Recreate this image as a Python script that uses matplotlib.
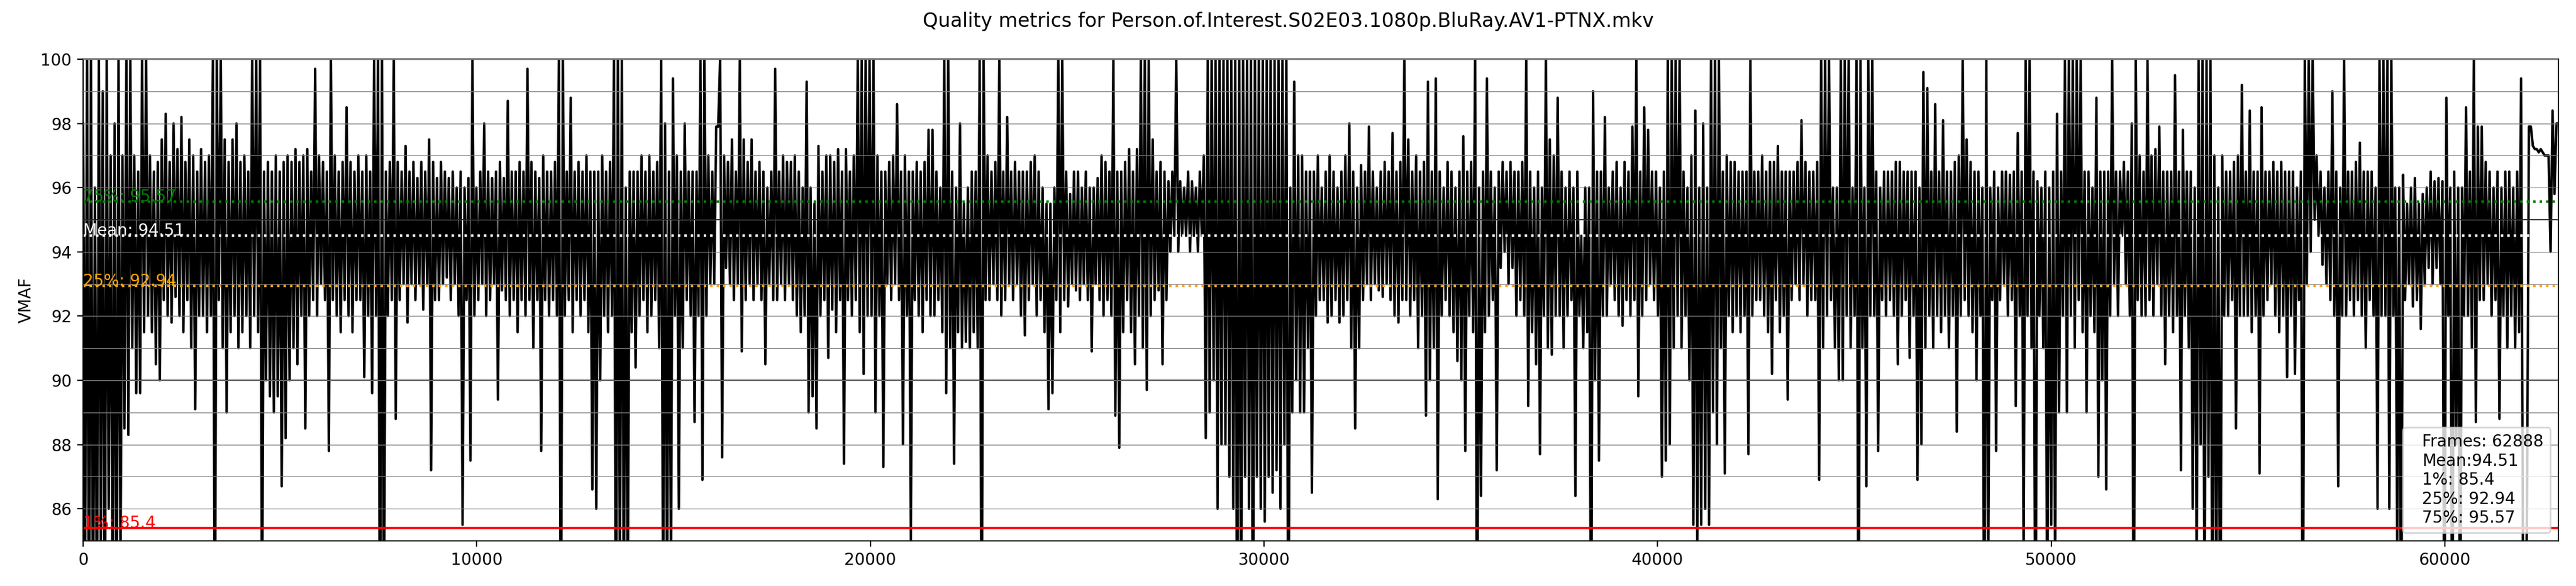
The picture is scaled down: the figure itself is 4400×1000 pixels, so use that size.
import numpy as np
import matplotlib
matplotlib.use("Agg")
import matplotlib.pyplot as plt
from matplotlib.ticker import MultipleLocator

# ---- data ----
title = "Quality metrics for Person.of.Interest.S02E03.1080p.BluRay.AV1-PTNX.mkv"
n_frames = 62888
mean_vmaf = 94.51
p1_vmaf = 85.4
p25_vmaf = 92.94
p75_vmaf = 95.57

# per-frame VMAF, sampled roughly every 50 frames (read off the picture),
# one row of 20 values per ~1000 frames
vmaf_part1 = [
    98, 84, 100, 80, 100, 82, 96, 81, 100, 85, 99, 80, 100, 86, 97, 83, 98, 80, 100, 84,
    97, 88.5, 100, 88.3, 100, 91, 97, 89.6, 96.5, 89.6, 100, 91.5, 100, 92, 97, 91.5, 96.5, 90.5, 96.8, 90,
    97.5, 92.5, 98.3, 92, 96.8, 91.8, 98, 92.6, 97.2, 92, 98.2, 91.5, 96.8, 92.5, 97.5, 91, 97, 89.1, 96.5, 92,
    97.2, 92, 96.8, 91.5, 97, 92, 100, 80, 100, 92.5, 100, 91, 97.5, 89, 96.8, 91.5, 97.5, 92, 98, 91,
    96.8, 91.5, 97, 92, 96.5, 91, 100, 92, 100, 91.5, 100, 82, 96.5, 90, 96.8, 89.5, 96.5, 89, 97, 89.5,
    96.5, 86.7, 96.8, 88.2, 97, 90, 96.8, 91, 97.2, 90.5, 96.8, 92, 97, 88.5, 97.2, 92, 96.5, 92.5, 99.7, 92,
    97, 93, 96.8, 92.5, 96.5, 87.8, 100, 92.5, 97, 92, 96.5, 91.5, 96.8, 92.5, 98.5, 92, 96.8, 91.5, 96.5, 92.5,
    97, 92.5, 96.5, 90.1, 97, 92, 96.5, 89.6, 100, 92, 100, 80, 100, 82, 96.5, 92, 96.8, 92.5, 100, 88.8,
    96.8, 92.5, 96.5, 93, 97.3, 91.8, 96.5, 93, 96.8, 92.5, 96.3, 93, 96.8, 92.2, 96.5, 93, 97.5, 87.2, 96.8, 92.5,
    96.3, 92.5, 96.8, 93, 96.5, 93.2, 96.3, 92.5, 96.5, 93, 96, 92, 96.5, 85.5, 96, 92.5, 96.3, 87.5, 100, 92,
    96, 92.5, 96.5, 93, 98, 92, 96.5, 92.5, 96.3, 93, 96.5, 89.4, 96.8, 92.8, 96.3, 92.5, 98.7, 92, 96.5, 92.5,
    96.5, 91.5, 96.8, 92.5, 96.5, 92, 99.7, 92.5, 96.8, 91, 96.5, 92.5, 96.3, 87.8, 97, 92.5, 96.5, 92, 96.5, 92.5,
    96.8, 92, 100, 80, 100, 92, 96.5, 92.5, 98.8, 91.5, 96.5, 92.5, 96.8, 92, 96.5, 92.5, 97, 91.5, 96.5, 86.6,
    96.5, 86, 96.5, 90, 97, 92, 96.5, 91.5, 96.8, 92, 100, 80, 100, 84, 100, 82, 96, 83, 96.5, 91.5,
    96.5, 90.4, 96.5, 92, 97, 92.5, 96.5, 91.5, 97, 92, 96.5, 92.5, 96.8, 91, 100, 82, 98, 83, 96.5, 84,
    99.4, 92, 97, 86, 96.5, 91, 98, 92.5, 96.5, 92, 96.5, 88.7, 96.5, 92, 100, 86.9, 100, 92, 97, 93,
]
vmaf_part2 = [
    96.5, 93, 97.9, 97.9, 100, 87.6, 97, 93.5, 96.8, 93, 97.5, 92.5, 96.5, 93, 100, 90.9, 97.5, 92.5, 96.8, 93,
    97.5, 92.5, 96.5, 93, 96.8, 92.5, 96.5, 90.5, 96, 93, 96.5, 92.5, 99.7, 92.5, 96.5, 93, 97, 92.5, 96.8, 93,
    96.8, 92.5, 97, 92, 96.5, 91.5, 96, 92, 99.3, 89, 96, 89.5, 95.5, 88.5, 97.3, 92, 96.5, 92.5, 97, 90.7,
    97, 92.2, 96.8, 91.5, 97.2, 92.5, 96.5, 87.4, 97.2, 92.5, 96.5, 92, 97, 92.5, 100, 91.5, 100, 90.2, 100, 92,
    100, 92, 100, 89, 97, 92, 96.5, 87.3, 96.5, 93, 96.8, 92.5, 97, 93, 98.6, 92.5, 96.5, 88, 97, 92,
    96.5, 85, 96.5, 92.5, 96.8, 92, 96.5, 91.5, 96.8, 92.5, 97.8, 92, 97.8, 92, 96.5, 92.5, 96, 91.5, 100, 89.6,
    100, 91, 96.5, 87.4, 96, 91.5, 98, 91, 95.5, 91.2, 96, 91, 96.5, 91.5, 96.5, 91, 100, 80, 100, 92.5,
    97, 92.5, 96.5, 93, 96.8, 92.5, 100, 92, 96.5, 92.5, 98.2, 93, 96.5, 92.5, 96.8, 93, 96.5, 92, 96.5, 91.4,
    96.5, 92.5, 96.8, 93, 97, 92, 96.5, 92.5, 96, 91.5, 95.5, 89.1, 95.5, 89.6, 96, 92.5, 100, 91.5, 100, 92.5,
    96.5, 92.3, 95.8, 93, 96.5, 92.8, 96.5, 92.5, 96, 93, 96.5, 92.5, 96, 90.9, 96, 93, 96.3, 92.5, 97, 92,
    96.8, 92.5, 96.5, 92, 100, 88.9, 96.5, 87.9, 96.5, 91.5, 96.8, 92.5, 97.2, 91.5, 96.5, 90.5, 97.2, 92, 100, 91,
    100, 89.7, 100, 92, 97.5, 92.5, 96.5, 92.8, 96.8, 90.5, 96.5, 92.5, 96.2, 94, 96.5, 94.5, 100, 94, 96.2, 94.5,
    96, 94.5, 96.5, 94, 96.2, 94.5, 96, 94, 96.5, 94.5, 97, 88.2, 100, 89, 100, 90, 100, 86, 100, 88,
    100, 88, 100, 87, 100, 86, 100, 80, 100, 82, 100, 87, 100, 86, 100, 80, 100, 87, 100, 86,
    100, 85.6, 100, 87, 100, 86.5, 100, 87.2, 100, 86, 100, 88, 100, 80, 96, 89, 99.3, 90, 97, 89,
    97, 89, 96.5, 91, 96.5, 86.5, 96.5, 92, 97, 92.5, 96, 92.5, 96.5, 91.8, 97, 92, 96.5, 92.5, 96, 91.8,
]
vmaf_part3 = [
    96.5, 92, 97, 92.5, 98, 91, 96.5, 88.5, 96, 91, 96.7, 92.5, 96.5, 93, 97.9, 92.5, 96.5, 93, 96, 92.8,
    96.5, 92.6, 96.8, 93, 96.5, 92.5, 97.7, 92, 96.5, 91.8, 96.8, 92.5, 100, 92.5, 97.5, 92, 96.5, 92.5, 97, 91,
    96.5, 92, 96.8, 88.9, 99.3, 90, 96.5, 91, 99.4, 86.3, 96.5, 92, 96, 92.5, 96.8, 92, 96.5, 91.5, 96, 90.6,
    96.5, 90, 97.6, 87.8, 96.5, 92, 96.8, 91.5, 100, 80, 96, 86.4, 96.5, 91.5, 99.4, 92, 96.5, 92.5, 96, 87.2,
    96.5, 93.5, 96.8, 94, 96.5, 93, 96.8, 93.5, 96.5, 92, 96.5, 92.5, 96.8, 92, 100, 89.2, 96.5, 91.5, 96, 90.5,
    96.5, 87.7, 96, 92, 100, 91, 97.5, 90.8, 97, 92, 98.8, 92, 96.5, 91, 96, 92, 96.5, 92.5, 96, 86.4,
    96.5, 92, 94.5, 91, 96, 91.5, 96, 80, 99, 90, 96.5, 87.5, 96.5, 92, 98.2, 92, 96, 93, 96.5, 92.5,
    96.8, 92, 96, 91.7, 96.8, 92.5, 96.5, 92, 97.9, 92.5, 100, 89.5, 96.5, 92, 98.5, 92.5, 97.8, 93, 96.5, 92.5,
    96.5, 92, 96, 87, 96.5, 87.5, 100, 88, 100, 91, 100, 92, 100, 91, 96.5, 92, 96, 90, 97, 85.5,
    98.4, 84.5, 96, 85.5, 98, 86, 96, 85.5, 100, 89, 100, 88, 100, 91, 96.5, 87.1, 97, 92, 96.8, 91.5,
    96.8, 92, 96.5, 91.5, 96.5, 92, 96.5, 87.7, 100, 92, 96.5, 92.5, 96.5, 92.5, 97, 92, 96.5, 91.5, 96.8, 90.2,
    96.8, 92.5, 97.3, 91.5, 96.5, 92, 96.5, 89.4, 96.5, 92.5, 96.5, 93, 96.8, 92.5, 98.1, 93, 96.8, 92, 96.5, 92.5,
    96.5, 92.5, 96.8, 86.9, 100, 91, 100, 92, 100, 92.5, 96, 91, 96, 90, 100, 90, 100, 92, 100, 91,
    96, 92, 100, 80, 100, 91, 96, 86.7, 100, 92, 100, 92, 96.5, 87.8, 96, 92.5, 96.5, 92, 96.5, 92.5,
    96.5, 92, 96.8, 90.5, 96.8, 92, 96.5, 92.5, 96.5, 90.7, 96.5, 92, 96.5, 86.9, 96, 88, 99.6, 91, 99.1, 92,
]
vmaf_part4 = [
    96.5, 91, 98.6, 92, 96.5, 91.5, 98.1, 92, 96.5, 91, 96.5, 92, 96.8, 88.4, 97, 92, 100, 92.5, 97.5, 92,
    96.8, 91.5, 96.5, 90, 96.5, 92, 96, 80, 100, 84, 96, 92.5, 96.5, 87.8, 96, 92.5, 96.5, 93, 96.5, 92,
    96.4, 92.5, 96.5, 89.2, 97.7, 92, 96.5, 84.5, 100, 92, 100, 91, 96.5, 80, 96.2, 92, 96, 91, 96.5, 82,
    96, 85.5, 96.5, 84, 98.3, 89, 96.5, 92, 100, 89, 100, 92, 100, 91, 100, 92.5, 100, 91.5, 96.5, 89,
    96.5, 92, 96, 91.5, 98.8, 87, 96.5, 90, 96.5, 86.6, 96.5, 92, 100, 93, 96.5, 92, 96.5, 94.5, 96.8, 93,
    96.5, 92, 98, 80, 100, 92.5, 97, 92, 96.5, 92, 100, 92.5, 97, 92, 97.2, 93, 97.9, 92, 96.5, 90.5,
    96.5, 92, 96.5, 91.5, 99.5, 92, 96.5, 87.2, 97.8, 92, 96.5, 91, 96.5, 86, 96, 84, 100, 88, 100, 82,
    100, 87, 100, 80, 97, 83, 96, 80, 97, 92, 96.5, 92, 96.5, 92.5, 96.8, 88.5, 97, 92, 99.2, 92,
    96.5, 92, 98.4, 91.5, 96.5, 92, 96.5, 87.1, 98.5, 92, 96.5, 92.5, 96.5, 93, 96.8, 92, 96.5, 91.5, 96.8, 92,
    96.5, 90.1, 96.5, 92, 96.5, 90.2, 96, 92.5, 96.5, 80, 100, 93, 100, 94, 100, 95, 97, 94.5, 96.5, 93.6,
    96, 93, 96.5, 92.5, 99, 92, 96.5, 86.7, 96, 92, 100, 92, 96.5, 92.5, 96.5, 92, 96.8, 92.5, 97.4, 92,
    96.5, 91, 96.5, 92.5, 96.5, 92, 96, 86, 100, 92, 100, 92, 100, 86, 100, 92, 96, 85, 96, 80,
    96.4, 92.5, 95.5, 93, 96, 92.3, 96.3, 92.5, 95.5, 91.6, 95.8, 93, 96, 93.5, 96.5, 93, 96.2, 93.5, 96.3, 93,
    96.2, 80, 98.8, 92, 96, 80, 96.5, 88, 96, 80, 96, 92, 98.5, 92, 96.5, 91, 100, 88.7, 97.9, 92.5,
    97.9, 92.5, 96.8, 93, 96.5, 92, 96, 92.5, 96.5, 88.8, 96, 92, 96.5, 91, 96.5, 92, 96, 91, 96.5, 91.5,
    99.4, 84, 80, 86, 97.9, 97.9, 97.3, 97.2, 97.2, 97.1, 97.2, 97.1, 97.0, 97.0, 97.0, 94.0, 98.4, 95.8, 98.0, 98.0,
]

legend_text = (f"Frames: {n_frames}\nMean:{mean_vmaf}\n1%: {p1_vmaf}\n"
               f"25%: {p25_vmaf}\n75%: {p75_vmaf}")

# ---- figure ----
vmaf = np.array(vmaf_part1 + vmaf_part2 + vmaf_part3 + vmaf_part4)
frames = np.linspace(0, n_frames - 1, len(vmaf))

fig = plt.figure(figsize=(22, 5), dpi=200)
ax = fig.add_axes([0.03227, 0.077, 0.96091, 0.822])

ax.plot(frames, vmaf, color="black", linewidth=1.5, zorder=2)

ax.set_xlim(0, n_frames - 1)
ax.set_ylim(85, 100)
ax.yaxis.set_minor_locator(MultipleLocator(1))
ax.tick_params(axis="y", which="minor", length=0)
ax.set_axisbelow(False)
ax.grid(axis="y", which="both", color="#808080", linewidth=0.45)
for yv in (90, 95):
    ax.axhline(yv, color="black", linewidth=0.75)

ax.axhline(p1_vmaf, color="red", linewidth=1.5)
ax.text(0, p1_vmaf, f"1%: {p1_vmaf}", color="red", fontsize=10)
ax.axhline(p25_vmaf, color="orange", linestyle=":", linewidth=1.5)
ax.text(0, p25_vmaf, f"25%: {p25_vmaf}", color="orange", fontsize=10)
ax.axhline(mean_vmaf, color="white", linestyle=":", linewidth=1.5)
ax.text(0, mean_vmaf, f"Mean: {mean_vmaf}", color="white", fontsize=10)
ax.axhline(p75_vmaf, color="green", linestyle=":", linewidth=1.5)
ax.text(0, p75_vmaf, f"75%: {p75_vmaf}", color="green", fontsize=10)

ax.plot([], [], " ", label=legend_text)
ax.legend(loc="lower right", handlelength=0, fontsize=10)

ax.set_ylabel("VMAF")
fig.suptitle(title, fontsize=12)

fig.savefig("out.png", dpi=200)
